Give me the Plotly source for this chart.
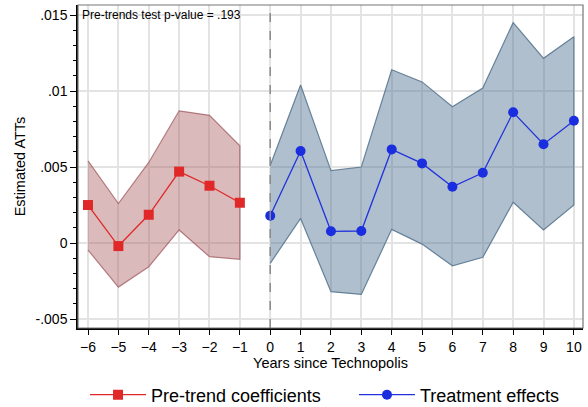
import plotly.graph_objects as go

# event time
pre_years = [-6, -5, -4, -3, -2, -1]
post_years = [0, 1, 2, 3, 4, 5, 6, 7, 8, 9, 10]

# pre-trend coefficients and 95% CI
pre_coef = [0.0025, -0.0002, 0.00186, 0.0047, 0.00377, 0.00265]
pre_hi = [0.0054, 0.0026, 0.0053, 0.0087, 0.0084, 0.0064]
pre_lo = [-0.00046, -0.0029, -0.00156, 0.00086, -0.0009, -0.00107]

# treatment effects and 95% CI
post_coef = [0.0018, 0.00605, 0.00077, 0.00079, 0.00616, 0.00524, 0.0037, 0.00462, 0.0086, 0.0065, 0.00805]
post_hi = [0.0051, 0.0104, 0.00476, 0.0050, 0.0114, 0.0106, 0.00897, 0.0102, 0.0145, 0.01215, 0.01357]
post_lo = [-0.00134, 0.00162, -0.0032, -0.00338, 0.0009, -0.00007, -0.0015, -0.00094, 0.00268, 0.00086, 0.0025]

ytick_vals = [-0.005, 0, 0.005, 0.01, 0.015]
ytick_text = ["-.005", "0", ".005", ".01", ".015"]
xtick_vals = list(range(-6, 11))

fnt = "Liberation Sans, Arial, sans-serif"

fig = go.Figure()

# CI bands
fig.add_trace(go.Scatter(x=pre_years + pre_years[::-1], y=pre_hi + pre_lo[::-1],
                         fill="toself", fillcolor="rgba(170,90,95,0.42)",
                         line=dict(color="rgba(160,90,95,0.75)", width=1.2),
                         mode="lines", showlegend=False, hoverinfo="skip"))
fig.add_trace(go.Scatter(x=post_years + post_years[::-1], y=post_hi + post_lo[::-1],
                         fill="toself", fillcolor="rgba(80,115,145,0.46)",
                         line=dict(color="rgba(90,120,145,0.9)", width=1.2),
                         mode="lines", showlegend=False, hoverinfo="skip"))

fig.add_trace(go.Scatter(x=pre_years, y=pre_coef, mode="lines+markers",
                         name="Pre-trend coefficients", legend="legend",
                         line=dict(color="#e02828", width=1.3),
                         marker=dict(symbol="square", size=10, color="#e02828")))
fig.add_trace(go.Scatter(x=post_years, y=post_coef, mode="lines+markers",
                         name="Treatment effects", legend="legend2",
                         line=dict(color="#2233dd", width=1.3),
                         marker=dict(symbol="circle", size=10, color="#1a2ee0")))

# reference lines and frame
fig.add_shape(type="line", x0=-6.33, x1=10.3, y0=0, y1=0, xref="x", yref="y",
              line=dict(color="#8a8a8a", width=1.5), layer="below")
fig.add_shape(type="line", x0=0, x1=0, y0=0, y1=1, xref="x", yref="paper",
              line=dict(color="#8a8a8a", width=1.5, dash="dash"))
fig.add_shape(type="rect", x0=0, x1=1, y0=0, y1=1, xref="paper", yref="paper",
              line=dict(color="#777", width=1.2))

fig.add_annotation(text="Pre-trends test p-value = .193", x=0, y=1, xref="paper", yref="paper",
                   xanchor="left", yanchor="top", xshift=2, yshift=-1, showarrow=False,
                   font=dict(size=12, color="black", family=fnt))

leg = dict(orientation="h", xref="container", yref="container", xanchor="left",
           y=0.0295, yanchor="middle", font=dict(size=18), itemwidth=56,
           bgcolor="rgba(0,0,0,0)")

fig.update_layout(
    width=588, height=407,
    margin=dict(l=78, r=5, t=5, b=79),
    plot_bgcolor="white", paper_bgcolor="white",
    font=dict(family=fnt, color="black"),
    legend=dict(leg, x=0.1446),
    legend2=dict(leg, x=0.602),
    xaxis=dict(range=[-6.33, 10.3], tickvals=xtick_vals, ticks="outside", ticklen=5,
               tickcolor="black", tickfont=dict(size=14),
               showgrid=True, gridcolor="#e3e3e3", gridwidth=1.5,
               showline=True, linecolor="black", linewidth=1.5,
               zeroline=False,
               title=dict(text="Years since Technopolis", font=dict(size=14.5), standoff=3)),
    yaxis=dict(range=[-0.00559, 0.01566], tickvals=ytick_vals, ticktext=ytick_text,
               ticks="outside", ticklen=6, tickcolor="black", tickfont=dict(size=14),
               minor=dict(dtick=0.001, ticks="outside", ticklen=3, tickcolor="black", showgrid=False),
               showgrid=True, gridcolor="#e3e3e3", gridwidth=1.5,
               showline=True, linecolor="black", linewidth=1.5,
               zeroline=False,
               title=dict(text="Estimated ATTs", font=dict(size=14.5), standoff=6)),
)

fig.write_html("out.html", config={"displayModeBar": False},
               post_script="document.body.style.margin='0';document.body.style.overflow='hidden';")
